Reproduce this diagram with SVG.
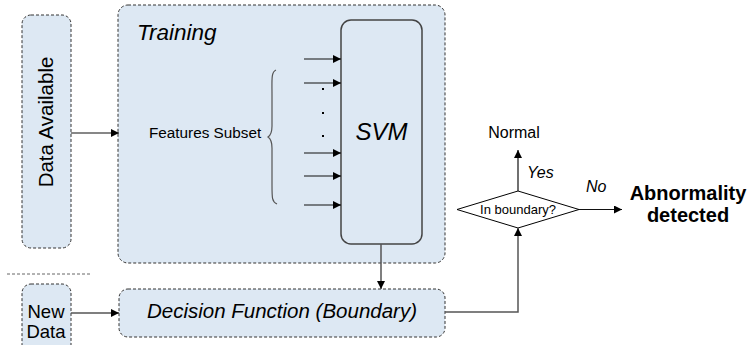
<svg xmlns="http://www.w3.org/2000/svg" width="754" height="345" viewBox="0 0 754 345">
<defs>
<marker id="ah" viewBox="0 0 10 10" refX="10" refY="5" markerWidth="10" markerHeight="8" markerUnits="userSpaceOnUse" orient="auto">
<path d="M0,0 L10,5 L0,10 z" fill="#000"/>
</marker>
</defs>
<style>
.box{fill:#dde8f3;stroke:#333;stroke-width:1;stroke-dasharray:3 2;}
.svm{fill:#dde8f3;stroke:#444;stroke-width:1.5;}
.ln{fill:none;stroke:#111;stroke-width:1.2;}
.lng{fill:none;stroke:#555;stroke-width:1.5;}
.t{font-family:"Liberation Sans",Arial,sans-serif;fill:#000;}
.i{font-style:italic;}
.b{font-weight:bold;}
</style>
<rect width="754" height="345" fill="#fff"/>
<line x1="7" y1="274" x2="91" y2="274" stroke="#666" stroke-width="1" stroke-dasharray="3 2"/>
<g id="data-available">
<rect class="box" x="22" y="15" width="49" height="233" rx="9"/>
<text class="t" font-size="20.5" text-anchor="middle" transform="translate(53,122) rotate(-90)">Data Available</text>
</g>
<g id="new-data">
<rect class="box" x="22" y="284" width="49" height="70" rx="9"/>
<text class="t" font-size="18.5" text-anchor="middle" x="46" y="318">New</text>
<text class="t" font-size="18.5" text-anchor="middle" x="46" y="338">Data</text>
</g>
<g id="training">
<rect class="box" x="118" y="5" width="327" height="258" rx="10"/>
<text class="t i" font-size="22.5" x="137" y="40">Training</text>
<text class="t" font-size="15.3" x="149" y="138">Features Subset</text>
<path d="M276,70 C271,72 272,80 272,95 L272,126 C272,132 271,135 268,137 C271,139 272,142 272,148 L272,185 C272,198 272,202 277,204" fill="none" stroke="#555" stroke-width="1.2"/>
<rect x="322" y="88" width="2" height="2" fill="#000"/>
<rect x="322" y="112" width="2" height="2" fill="#000"/>
<rect x="322" y="135" width="2" height="2" fill="#000"/>
</g>
<g id="svm">
<rect class="svm" x="341" y="20" width="81" height="224" rx="10"/>
<text class="t i" font-size="24" text-anchor="middle" x="381.5" y="140">SVM</text>
</g>
<g id="decision-function">
<rect class="box" x="119" y="289" width="326" height="48" rx="9"/>
<text class="t i" font-size="20.5" text-anchor="middle" x="282" y="318">Decision Function (Boundary)</text>
</g>
<g id="in-boundary">
<polygon points="518,191 579,209.5 518,228 457,209.5" fill="#fff" stroke="#000" stroke-width="1"/>
<text class="t" font-size="13" text-anchor="middle" x="518" y="214">In boundary?</text>
</g>
<g id="normal">
<text class="t" font-size="16" text-anchor="middle" x="514" y="138">Normal</text>
</g>
<g id="abnormality">
<text class="t b" font-size="20" text-anchor="middle" x="688" y="200">Abnormality</text>
<text class="t b" font-size="20" text-anchor="middle" x="688" y="222">detected</text>
</g>
<g id="connectors">
<line class="ln" x1="71" y1="133" x2="119" y2="133" marker-end="url(#ah)"/>
<line class="lng" x1="71" y1="313" x2="119" y2="313" marker-end="url(#ah)"/>
<line class="ln" x1="304" y1="59" x2="341" y2="59" marker-end="url(#ah)"/>
<line class="ln" x1="304" y1="83" x2="341" y2="83" marker-end="url(#ah)"/>
<line class="ln" x1="304" y1="153" x2="341" y2="153" marker-end="url(#ah)"/>
<line class="ln" x1="304" y1="176" x2="341" y2="176" marker-end="url(#ah)"/>
<line class="ln" x1="304" y1="205" x2="341" y2="205" marker-end="url(#ah)"/>
<line class="lng" x1="381" y1="244" x2="381" y2="289" marker-end="url(#ah)"/>
<polyline class="lng" points="445,312 518,312 518,228" marker-end="url(#ah)"/>
<line class="ln" x1="518" y1="191" x2="518" y2="150" marker-end="url(#ah)"/>
<line class="ln" x1="579" y1="209.5" x2="622" y2="209.5" marker-end="url(#ah)"/>
<text class="t i" font-size="16" x="527" y="178">Yes</text>
<text class="t i" font-size="16" x="586" y="192">No</text>
</g>
</svg>
